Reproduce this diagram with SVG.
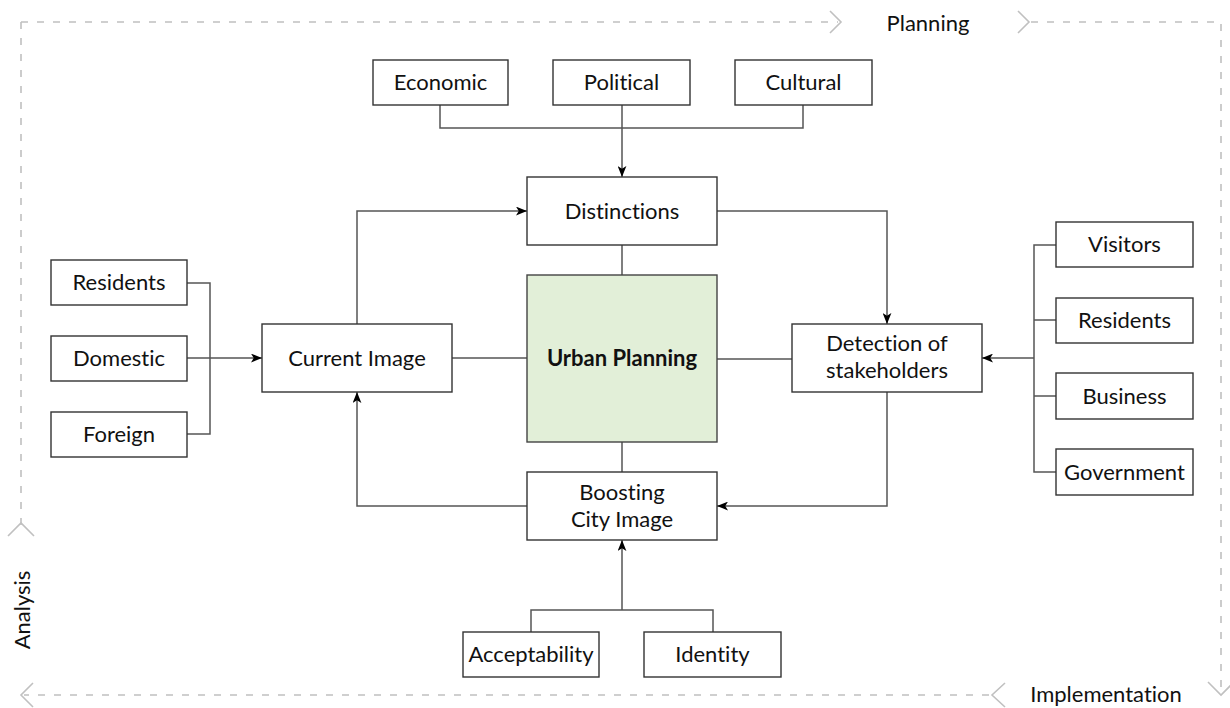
<svg xmlns="http://www.w3.org/2000/svg" width="1230" height="708" viewBox="0 0 1230 708">
<defs>
<style>
.box{fill:#fff;stroke:#333;stroke-width:1.4}
.core{fill:#e2efd8;stroke:#444;stroke-width:1.4}
.t{font-family:Lato,"Liberation Sans",Arial,sans-serif;font-size:22px;fill:#111;text-anchor:middle;font-variant-ligatures:none;font-feature-settings:"liga" 0}
.b{font-weight:bold}
.c{fill:none;stroke:#555;stroke-width:1.5}
.d{fill:none;stroke:#c0c0c0;stroke-width:1.6;stroke-dasharray:7 9}
.ch{fill:none;stroke:#c0c0c0;stroke-width:1.6}
</style>
<marker id="arr" viewBox="0 0 10 8" refX="10" refY="4" markerWidth="11" markerHeight="9" markerUnits="userSpaceOnUse" orient="auto">
<path d="M0,0 L10,4 L0,8 L2.5,4 z" fill="#000"/>
</marker>
</defs>
<rect width="1230" height="708" fill="#fff"/>

<g id="cycle-frame">
<path class="d" d="M21,22 H838"/>
<path class="ch" d="M830,11 L841,22 L830,33"/>
<path class="ch" d="M1018,11 L1029,22 L1018,33"/>
<path class="d" d="M1031,22 H1221 V692"/>
<path class="ch" d="M1208,682 L1221,695 L1234,682"/>
<path class="ch" d="M1005,683 L992,695 L1005,707"/>
<path class="d" d="M989,695 H24"/>
<path class="ch" d="M33,683 L21,695 L33,707"/>
<path class="d" d="M21,22 V526"/>
<path class="ch" d="M8,536 L21,523 L34,536"/>
<text class="t" x="928" y="31">Planning</text>
<text class="t" x="1106" y="702">Implementation</text>
<text class="t" transform="translate(30,610) rotate(-90)">Analysis</text>
</g>

<g id="connectors">
<path class="c" d="M440,105 V128 H803 V105"/>
<path class="c" d="M622,105 V177" marker-end="url(#arr)"/>
<path class="c" d="M622,245 V275"/>
<path class="c" d="M622,442 V472"/>
<path class="c" d="M452,358 H527"/>
<path class="c" d="M717,359 H792"/>
<path class="c" d="M357,324 V211 H527" marker-end="url(#arr)"/>
<path class="c" d="M527,506 H357 V392" marker-end="url(#arr)"/>
<path class="c" d="M717,211 H887 V324" marker-end="url(#arr)"/>
<path class="c" d="M887,392 V506 H717" marker-end="url(#arr)"/>
<path class="c" d="M622,610 V540" marker-end="url(#arr)"/>
<path class="c" d="M531,632 V610 H713 V632"/>
<path class="c" d="M187,283 H210 V434 H187"/>
<path class="c" d="M187,358 H262" marker-end="url(#arr)"/>
<path class="c" d="M1056,245 H1034 V472 H1056"/>
<path class="c" d="M1034,320 H1056 M1034,396 H1056"/>
<path class="c" d="M1034,358 H982" marker-end="url(#arr)"/>
</g>

<g id="economic"><rect class="box" x="373" y="60" width="135" height="45"/><text class="t" x="440.5" y="90">Economic</text></g>
<g id="political"><rect class="box" x="553" y="60" width="137" height="45"/><text class="t" x="621.5" y="90">Political</text></g>
<g id="cultural"><rect class="box" x="735" y="60" width="137" height="45"/><text class="t" x="803.5" y="90">Cultural</text></g>

<g id="distinctions"><rect class="box" x="527" y="177" width="190" height="68"/><text class="t" x="622" y="218.5">Distinctions</text></g>
<g id="urban-planning"><rect class="core" x="527" y="275" width="190" height="167"/><text class="t b" x="622" y="366">Urban Planning</text></g>
<g id="current-image"><rect class="box" x="262" y="324" width="190" height="68"/><text class="t" x="357" y="365.5">Current Image</text></g>
<g id="detection"><rect class="box" x="792" y="324" width="190" height="68"/><text class="t" x="887" y="351">Detection of</text><text class="t" x="887" y="378">stakeholders</text></g>
<g id="boosting"><rect class="box" x="527" y="472" width="190" height="68"/><text class="t" x="622" y="500">Boosting</text><text class="t" x="622" y="527">City Image</text></g>

<g id="acceptability"><rect class="box" x="463" y="632" width="136" height="45"/><text class="t" x="531" y="662">Acceptability</text></g>
<g id="identity"><rect class="box" x="644" y="632" width="137" height="45"/><text class="t" x="712.5" y="662">Identity</text></g>

<g id="residents-left"><rect class="box" x="51" y="260" width="136" height="45"/><text class="t" x="119" y="290">Residents</text></g>
<g id="domestic"><rect class="box" x="51" y="336" width="136" height="45"/><text class="t" x="119" y="366">Domestic</text></g>
<g id="foreign"><rect class="box" x="51" y="412" width="136" height="45"/><text class="t" x="119" y="442">Foreign</text></g>

<g id="visitors"><rect class="box" x="1056" y="222" width="137" height="45"/><text class="t" x="1124.5" y="252">Visitors</text></g>
<g id="residents-right"><rect class="box" x="1056" y="298" width="137" height="45"/><text class="t" x="1124.5" y="328">Residents</text></g>
<g id="business"><rect class="box" x="1056" y="373" width="137" height="46"/><text class="t" x="1124.5" y="403.5">Business</text></g>
<g id="government"><rect class="box" x="1056" y="449" width="137" height="46"/><text class="t" x="1124.5" y="479.5">Government</text></g>
</svg>
